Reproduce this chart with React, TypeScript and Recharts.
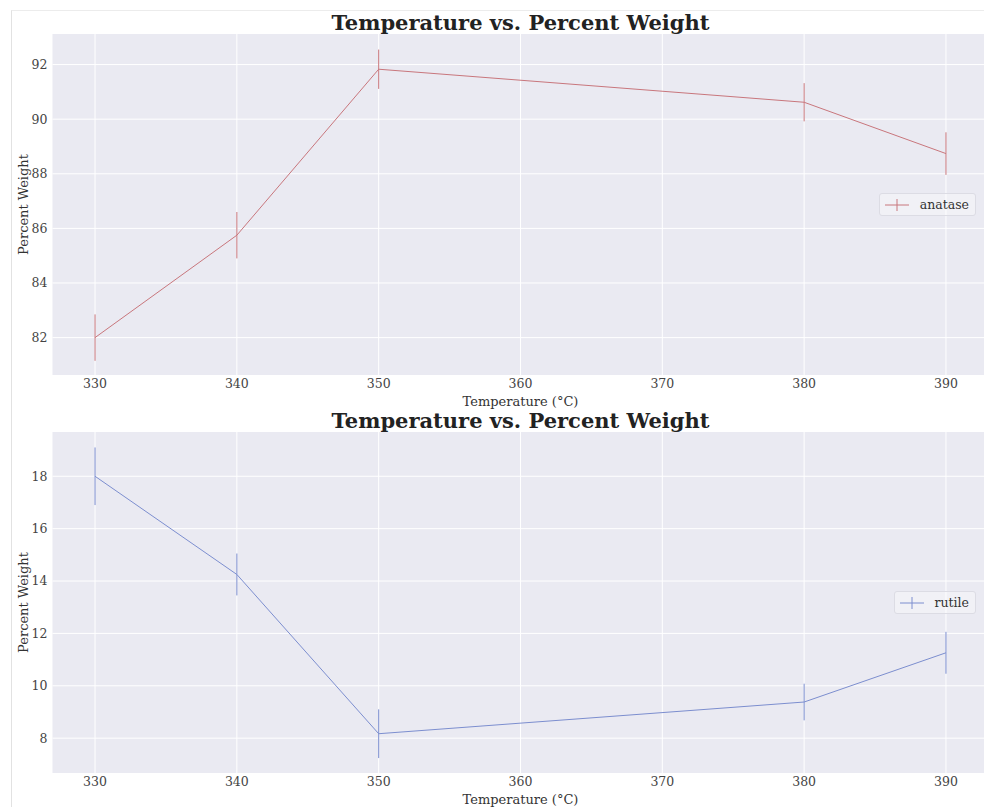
import React from "react";
import {
  LineChart,
  Line,
  XAxis,
  YAxis,
  CartesianGrid,
  ErrorBar,
} from "recharts";

const temperatures = [330, 340, 350, 380, 390];
const anataseWeight = [82.0, 85.75, 91.83, 90.62, 88.74];
const anataseError = [0.85, 0.85, 0.72, 0.7, 0.78];
const rutileWeight = [18.0, 14.25, 8.17, 9.38, 11.26];
const rutileError = [1.1, 0.8, 0.93, 0.7, 0.8];

const xTicks = [330, 340, 350, 360, 370, 380, 390];
const anataseTicks = [82, 84, 86, 88, 90, 92];
const rutileTicks = [8, 10, 12, 14, 16, 18];

const FONT = "'DejaVu Serif', 'Liberation Serif', serif";
const CHART_W = 990;
const CHART_H = 412;

type PanelProps = {
  name: string;
  color: string;
  values: number[];
  errors: number[];
  yDomain: [number, number];
  yTicks: number[];
  top: number;
  z: number;
};

// matplotlib-style legend: errorbar glyph (line with a vertical tick) + label
function LegendBox({ name, color }: { name: string; color: string }) {
  return (
    <div
      style={{
        position: "absolute",
        top: 193,
        right: 14,
        display: "flex",
        alignItems: "center",
        background: "rgba(255,255,255,0.35)",
        border: "1px solid #dcdce4",
        borderRadius: 3,
        padding: "3px 6px 3px 4px",
        fontFamily: FONT,
        fontSize: 12.5,
        color: "#333",
      }}
    >
      <svg width={26} height={14} style={{ marginRight: 10 }}>
        <line x1={1} y1={7} x2={25} y2={7} stroke={color} strokeWidth={1} />
        <line x1={13} y1={1} x2={13} y2={13} stroke={color} strokeWidth={1} />
      </svg>
      <span>{name}</span>
    </div>
  );
}

function Panel({ name, color, values, errors, yDomain, yTicks, top, z }: PanelProps) {
  const data = temperatures.map((t, i) => ({
    temp: t,
    [name]: values[i],
    err: errors[i],
  }));

  return (
    <div
      style={{
        position: "absolute",
        left: 0,
        top,
        width: CHART_W,
        height: CHART_H,
        zIndex: z,
      }}
    >
      <div
        style={{
          position: "absolute",
          top: 10,
          left: 52.5,
          width: 936,
          textAlign: "center",
          fontFamily: FONT,
          fontWeight: "bold",
          fontSize: 21,
          lineHeight: "25px",
          color: "#222",
        }}
      >
        Temperature vs. Percent Weight
      </div>
      <LineChart
        width={CHART_W}
        height={CHART_H}
        data={data}
        margin={{ top: 34, right: 1.5, bottom: 7, left: 0 }}
      >
        <CartesianGrid
          fill="#eaeaf2"
          stroke="#ffffff"
          strokeWidth={1}
          horizontalValues={yTicks}
          verticalValues={xTicks}
        />
        <XAxis
          dataKey="temp"
          type="number"
          domain={[327, 393]}
          ticks={xTicks}
          axisLine={false}
          tickLine={false}
          tickSize={0}
          tickMargin={4}
          height={30}
          tick={{ fontFamily: FONT, fontSize: 12.5, fill: "#444" }}
          label={{
            value: "Temperature (°C)",
            position: "insideBottom",
            offset: -0.5,
            style: { fontFamily: FONT, fontSize: 13, fill: "#333" },
          }}
        />
        <YAxis
          type="number"
          domain={yDomain}
          ticks={yTicks}
          allowDataOverflow
          axisLine={false}
          tickLine={false}
          tickSize={0}
          tickMargin={5}
          width={52.5}
          tick={{ fontFamily: FONT, fontSize: 12.5, fill: "#444" }}
          label={{
            value: "Percent Weight",
            angle: -90,
            position: "insideLeft",
            offset: 23,
            style: { fontFamily: FONT, fontSize: 13, fill: "#333", textAnchor: "middle" },
          }}
        />
        <Line
          dataKey={name}
          name={name}
          stroke={color}
          strokeWidth={1}
          dot={false}
          activeDot={false}
          isAnimationActive={false}
        >
          <ErrorBar
            dataKey="err"
            direction="y"
            width={0}
            stroke={color}
            strokeWidth={1}
            isAnimationActive={false}
          />
        </Line>
      </LineChart>
      <LegendBox name={name} color={color} />
    </div>
  );
}

export default function App() {
  return (
    <div
      style={{
        position: "absolute",
        left: 0,
        top: 0,
        width: 984,
        height: 807,
        overflow: "hidden",
        background: "#ffffff",
      }}
    >
      <div
        style={{
          position: "absolute",
          left: 11,
          top: 10,
          width: 1000,
          height: 820,
          borderLeft: "1.5px solid #e2e2e2",
          borderTop: "1.5px solid #ececec",
        }}
      />
      <Panel
        name="anatase"
        color="#c8767c"
        values={anataseWeight}
        errors={anataseError}
        yDomain={[80.63, 93.12]}
        yTicks={anataseTicks}
        top={0}
        z={2}
      />
      <Panel
        name="rutile"
        color="#7c8ecf"
        values={rutileWeight}
        errors={rutileError}
        yDomain={[6.67, 19.69]}
        yTicks={rutileTicks}
        top={398}
        z={1}
      />
    </div>
  );
}
